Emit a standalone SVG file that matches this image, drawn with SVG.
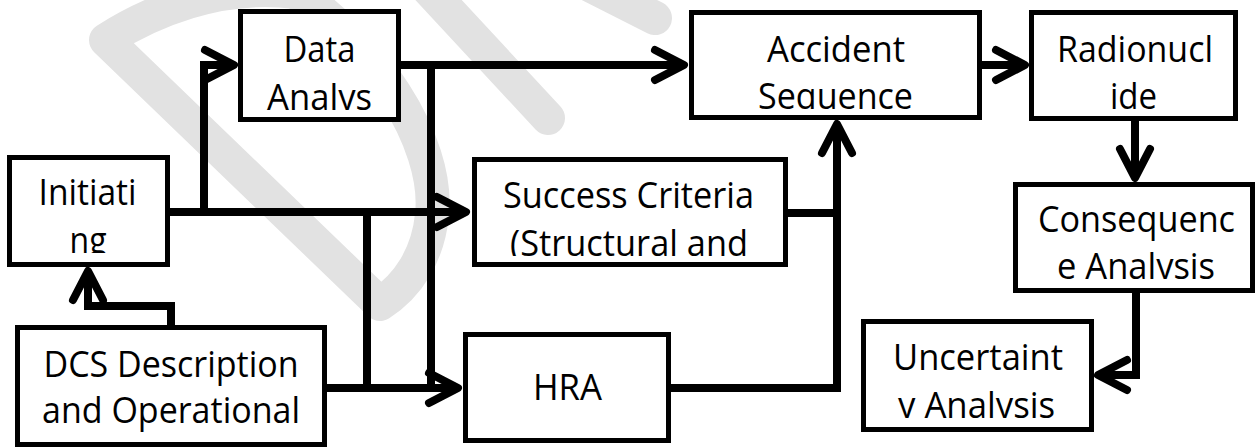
<svg xmlns="http://www.w3.org/2000/svg" width="1260" height="448" viewBox="0 0 1260 448">
<style>
.box{fill:#fff;stroke:#000;stroke-width:5}
.lbl{font-family:"Open Sans",Lato,"Liberation Sans",sans-serif;font-size:36px;fill:#000;text-anchor:middle;font-variant-ligatures:none}
.con{fill:none;stroke:#000;stroke-width:8;stroke-linejoin:miter}
.wm{fill:none;stroke:#e2e2e2;stroke-width:34;stroke-linecap:round;stroke-linejoin:round}
</style>
<defs>
<marker id="arr" markerUnits="userSpaceOnUse" markerWidth="50" markerHeight="50" viewBox="-40 -25 50 50" refX="0" refY="0" orient="auto" overflow="visible">
<path d="M-29,-15 L0,0 L-29,15" fill="none" stroke="#000" stroke-width="8" stroke-linecap="round" stroke-linejoin="round"/>
</marker>
<clipPath id="cData"><rect x="238" y="9" width="163" height="101"/></clipPath>
<clipPath id="cInit"><rect x="7" y="155" width="163" height="98"/></clipPath>
<clipPath id="cSucc"><rect x="472" y="157" width="316" height="99"/></clipPath>
<clipPath id="cAcc"><rect x="689" y="10" width="293" height="99"/></clipPath>
<clipPath id="cRad"><rect x="1029" y="10" width="209" height="99"/></clipPath>
<clipPath id="cCon"><rect x="1013" y="182" width="242" height="97"/></clipPath>
<clipPath id="cUnc"><rect x="861" y="319" width="233" height="99"/></clipPath>
</defs>
<rect width="1260" height="448" fill="#fff"/>
<g id="watermark">
<path class="wm" d="M380,304 L106,40 C150,12 220,-18 295,-8 C370,40 440,140 432,215 C428,255 408,286 380,304"/>
<path class="wm" d="M420,-20 L548,118"/>
<path class="wm" d="M560,-30 L655,18"/>
</g>
<g id="connectors">
<path class="con" d="M170,212 H466" marker-end="url(#arr)"/>
<path class="con" d="M204,216 V65 H234" marker-end="url(#arr)"/>
<path class="con" d="M401,65 H684" marker-end="url(#arr)"/>
<path class="con" d="M431,61 V392"/>
<path class="con" d="M367,212 V392"/>
<path class="con" d="M327,388 H458" marker-end="url(#arr)"/>
<path class="con" d="M171,325 V306 H88 V271" marker-end="url(#arr)"/>
<path class="con" d="M788,213 H841"/>
<path class="con" d="M671,388 H837 V124" marker-end="url(#arr)"/>
<path class="con" d="M982,65 H1025" marker-end="url(#arr)"/>
<path class="con" d="M1135,121 V178" marker-end="url(#arr)"/>
<path class="con" d="M1136,293 V375 H1098" marker-end="url(#arr)"/>
</g>
<g id="data">
<rect class="box" x="240.5" y="11.5" width="158" height="108"/>
<g clip-path="url(#cData)">
<text class="lbl" x="319.5" y="62" textLength="72" lengthAdjust="spacingAndGlyphs">Data</text>
<text class="lbl" x="319.5" y="110" textLength="105" lengthAdjust="spacingAndGlyphs">Analys</text>
</g>
</g>
<g id="initiating">
<rect class="box" x="9.5" y="157.5" width="158" height="107"/>
<g clip-path="url(#cInit)">
<text class="lbl" x="87.5" y="205" textLength="98" lengthAdjust="spacingAndGlyphs">Initiati</text>
<text class="lbl" x="88" y="253" textLength="37" lengthAdjust="spacingAndGlyphs">ng</text>
</g>
</g>
<g id="dcs">
<rect class="box" x="17.5" y="327.5" width="307" height="117"/>
<text class="lbl" x="171" y="377" textLength="255" lengthAdjust="spacingAndGlyphs">DCS Description</text>
<text class="lbl" x="171" y="423" textLength="258" lengthAdjust="spacingAndGlyphs">and Operational</text>
</g>
<g id="success">
<rect class="box" x="474.5" y="159.5" width="311" height="105"/>
<g clip-path="url(#cSucc)">
<text class="lbl" x="628.5" y="208" textLength="251" lengthAdjust="spacingAndGlyphs">Success Criteria</text>
<text class="lbl" x="629" y="256" textLength="238" lengthAdjust="spacingAndGlyphs">(Structural and</text>
</g>
</g>
<g id="hra">
<rect class="box" x="465.5" y="334.5" width="203" height="106"/>
<text class="lbl" x="567.5" y="400" textLength="69" lengthAdjust="spacingAndGlyphs">HRA</text>
</g>
<g id="accident">
<rect class="box" x="691.5" y="12.5" width="288" height="105"/>
<g clip-path="url(#cAcc)">
<text class="lbl" x="836" y="62" textLength="138" lengthAdjust="spacingAndGlyphs">Accident</text>
<text class="lbl" x="835.5" y="109" textLength="155" lengthAdjust="spacingAndGlyphs">Sequence</text>
</g>
</g>
<g id="radionuclide">
<rect class="box" x="1031.5" y="12.5" width="204" height="106"/>
<g clip-path="url(#cRad)">
<text class="lbl" x="1135" y="62" textLength="156" lengthAdjust="spacingAndGlyphs">Radionucl</text>
<text class="lbl" x="1133.5" y="109" textLength="47" lengthAdjust="spacingAndGlyphs">ide</text>
</g>
</g>
<g id="consequence">
<rect class="box" x="1015.5" y="184.5" width="237" height="106"/>
<g clip-path="url(#cCon)">
<text class="lbl" x="1136.5" y="232" textLength="197" lengthAdjust="spacingAndGlyphs">Consequenc</text>
<text class="lbl" x="1136" y="279" textLength="158" lengthAdjust="spacingAndGlyphs">e Analysis</text>
</g>
</g>
<g id="uncertainty">
<rect class="box" x="863.5" y="321.5" width="228" height="108"/>
<g clip-path="url(#cUnc)">
<text class="lbl" x="978" y="370" textLength="170" lengthAdjust="spacingAndGlyphs">Uncertaint</text>
<text class="lbl" x="976.5" y="418" textLength="157" lengthAdjust="spacingAndGlyphs">y Analysis</text>
</g>
</g>
</svg>
